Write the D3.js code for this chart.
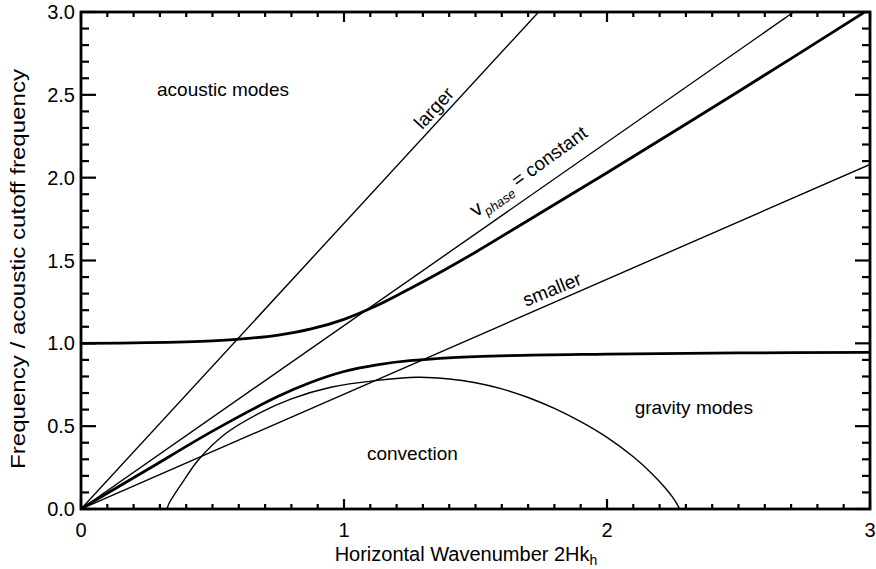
<!DOCTYPE html>
<html>
<head>
<meta charset="utf-8">
<script src="https://cdn.jsdelivr.net/npm/d3@7"></script>
<style>
  body { margin: 0; background: white; }
  text { font-family: 'Liberation Sans', Arial, Helvetica, sans-serif; fill: #000; }
</style>
</head>
<body>
<div id="chart-container"></div>
<script>
// values
const upperK = [0, 0.25, 0.5, 0.625, 0.75, 0.875, 1.0, 1.125, 1.25, 1.375, 1.5, 1.75, 2.0, 2.5, 3.0]
const upperNu = [1.0, 1.004, 1.015, 1.028, 1.05, 1.087, 1.145, 1.228, 1.33, 1.437, 1.55, 1.79, 2.03, 2.52, 3.02]

const lowerK = [0, 0.1, 0.25, 0.5, 0.75, 0.875, 1.0, 1.125, 1.25, 1.5, 2.0, 2.5, 3.0]
const lowerNu = [0, 0.095, 0.235, 0.47, 0.68, 0.765, 0.83, 0.87, 0.895, 0.92, 0.935, 0.942, 0.945]

const convK = [0.327, 0.335, 0.35, 0.39, 0.446, 0.554, 0.68, 0.8, 0.95, 1.118, 1.28, 1.4, 1.5, 1.6, 1.7, 1.8, 1.9, 2.0, 2.1, 2.17, 2.22, 2.25, 2.268, 2.276]
const convNu = [0, 0.035, 0.075, 0.17, 0.296, 0.46, 0.58, 0.665, 0.735, 0.775, 0.795, 0.785, 0.762, 0.725, 0.673, 0.607, 0.527, 0.432, 0.315, 0.215, 0.13, 0.07, 0.025, 0]

// straight lines through the origin, given by their far end
const lineNames = ['larger', 'vphase', 'smaller']
const lineEndK = [1.74, 2.71, 3.0]
const lineEndNu = [3.0, 3.0, 2.08]

const xTicks = [0, 1, 2, 3]
const yTicks = [0, 0.5, 1.0, 1.5, 2.0, 2.5, 3.0]

const width = 876
const height = 569
const marginTop = 12
const marginRight = 6
const marginBottom = 60
const marginLeft = 81

const svg = d3.select('#chart-container')
  .append('svg')
  .attr('width', width)
  .attr('height', height)

const x = d3.scaleLinear().domain([0, 3]).range([marginLeft, width - marginRight])
const y = d3.scaleLinear().domain([0, 3]).range([height - marginBottom, marginTop])

svg.append('clipPath').attr('id', 'plot-clip')
  .append('rect')
  .attr('x', marginLeft).attr('y', marginTop)
  .attr('width', width - marginLeft - marginRight)
  .attr('height', height - marginTop - marginBottom)

const plot = svg.append('g').attr('clip-path', 'url(#plot-clip)')

const straight = d3.line().x(d => x(d[0])).y(d => y(d[1]))
const smooth = d3.line().x(d => x(d[0])).y(d => y(d[1])).curve(d3.curveCatmullRom.alpha(0.5))

// thin straight lines
lineNames.forEach((name, i) => {
  plot.append('path')
    .attr('d', straight([[0, 0], [lineEndK[i], lineEndNu[i]]]))
    .attr('fill', 'none')
    .attr('stroke', '#000')
    .attr('stroke-width', 1.4)
})

// convection boundary
plot.append('path')
  .attr('d', smooth(convK.map((k, i) => [k, convNu[i]])))
  .attr('fill', 'none')
  .attr('stroke', '#000')
  .attr('stroke-width', 1.4)

// dispersion branches (thick)
plot.append('path')
  .attr('d', smooth(upperK.map((k, i) => [k, upperNu[i]])))
  .attr('fill', 'none').attr('stroke', '#000').attr('stroke-width', 2.8)
plot.append('path')
  .attr('d', smooth(lowerK.map((k, i) => [k, lowerNu[i]])))
  .attr('fill', 'none').attr('stroke', '#000').attr('stroke-width', 2.8)

// axes, ticks inside on all four sides
const axisG = svg.append('g')
const xMinor = d3.range(0, 3.0001, 0.1)
const yMinor = d3.range(0, 3.0001, 0.1)

xMinor.forEach(v => {
  const major = xTicks.some(t => Math.abs(t - v) < 1e-6)
  const len = major ? 10 : 5
  axisG.append('line').attr('x1', x(v)).attr('x2', x(v))
    .attr('y1', y(0)).attr('y2', y(0) - len)
  axisG.append('line').attr('x1', x(v)).attr('x2', x(v))
    .attr('y1', y(3)).attr('y2', y(3) + len)
})
yMinor.forEach(v => {
  const major = yTicks.some(t => Math.abs(t - v) < 1e-6)
  const len = major ? 15 : 8
  axisG.append('line').attr('x1', x(0)).attr('x2', x(0) + len)
    .attr('y1', y(v)).attr('y2', y(v))
  axisG.append('line').attr('x1', x(3)).attr('x2', x(3) - len)
    .attr('y1', y(v)).attr('y2', y(v))
})
axisG.selectAll('line').attr('stroke', '#000').attr('stroke-width', 2.2)

axisG.append('rect')
  .attr('x', x(0)).attr('y', y(3))
  .attr('width', x(3) - x(0)).attr('height', y(0) - y(3))
  .attr('fill', 'none').attr('stroke', '#000').attr('stroke-width', 2.8)

// tick labels
svg.append('g').selectAll('text')
  .data(xTicks)
  .join('text')
  .attr('x', d => x(d))
  .attr('y', y(0) + 28)
  .attr('text-anchor', 'middle')
  .attr('font-size', 20)
  .text(d => d3.format('d')(d))

svg.append('g').selectAll('text')
  .data(yTicks)
  .join('text')
  .attr('x', x(0) - 6)
  .attr('y', d => y(d) + 7)
  .attr('text-anchor', 'end')
  .attr('font-size', 20)
  .text(d => d3.format('.1f')(d))

// axis titles
const xTitle = svg.append('text')
  .attr('x', 466)
  .attr('y', height - 8)
  .attr('text-anchor', 'middle')
  .attr('font-size', 20)
xTitle.append('tspan').text('Horizontal Wavenumber 2Hk')
xTitle.append('tspan').attr('font-size', 14).attr('dy', 4).text('h')

svg.append('text')
  .attr('transform', `translate(25, 269) rotate(-90)`)
  .attr('text-anchor', 'middle')
  .attr('font-size', 20)
  .attr('textLength', 400)
  .attr('lengthAdjust', 'spacingAndGlyphs')
  .text('Frequency / acoustic cutoff frequency')

// annotations
const notes = svg.append('g').attr('font-size', 19)
notes.append('text').attr('x', x(0.54)).attr('y', y(2.5) + 1)
  .attr('text-anchor', 'middle').text('acoustic modes')
notes.append('text').attr('x', x(2.33)).attr('y', y(0.59) + 3)
  .attr('text-anchor', 'middle').text('gravity modes')
notes.append('text').attr('x', x(1.26)).attr('y', y(0.33) + 6)
  .attr('text-anchor', 'middle').text('convection')

notes.append('text')
  .attr('transform', `translate(${x(1.36)}, ${y(2.43) + 6}) rotate(-47.5)`)
  .attr('text-anchor', 'middle').text('larger')

const vp = notes.append('text')
  .attr('transform', `translate(${x(1.69) + 7}, ${y(2.0) - 1}) rotate(-36)`)
  .attr('text-anchor', 'middle')
vp.append('tspan').attr('font-size', 21).text('v')
vp.append('tspan').attr('font-size', 13).attr('font-style', 'italic').attr('dy', 6).text('phase')
vp.append('tspan').attr('dy', -6).text(' = constant')

notes.append('text')
  .attr('transform', `translate(${x(1.8)}, ${y(1.32) + 5}) rotate(-22)`)
  .attr('text-anchor', 'middle').text('smaller')
</script>
</body>
</html>
